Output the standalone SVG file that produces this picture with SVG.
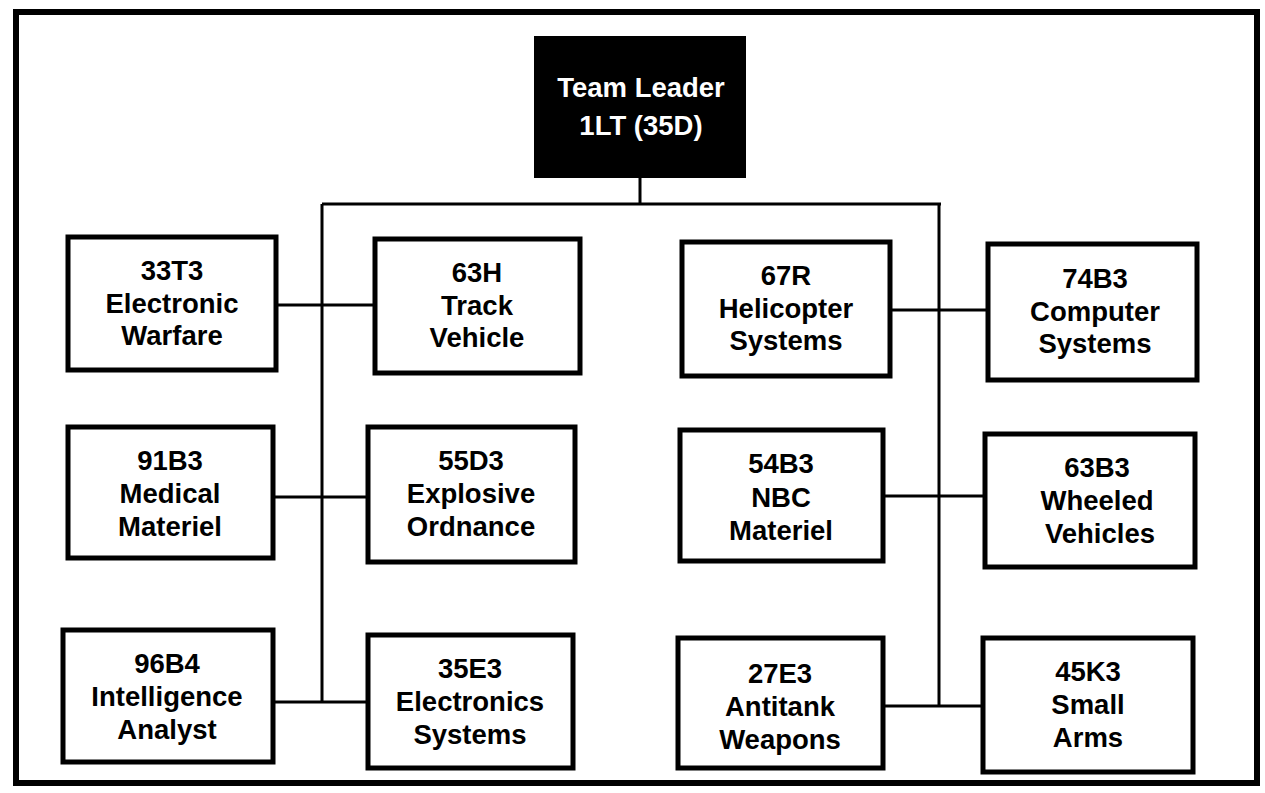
<svg xmlns="http://www.w3.org/2000/svg" width="1265" height="793" viewBox="0 0 1265 793">
<style>
.box{fill:#fff;stroke:#000;stroke-width:5}
.lead{fill:#000;stroke:#000;stroke-width:2}
.t{font-family:"Liberation Sans",Arial,sans-serif;font-weight:bold;font-size:27.5px;text-anchor:middle;fill:#000}
.w{fill:#fff}
.c{stroke:#000;stroke-width:3;fill:none}
</style>
<rect x="0" y="0" width="1265" height="793" fill="#fff"/>
<rect x="16" y="12" width="1241" height="771" fill="none" stroke="#000" stroke-width="6"/>
<g id="connectors">
<line class="c" x1="640" y1="177" x2="640" y2="204"/>
<line class="c" x1="322" y1="204" x2="941" y2="204"/>
<line class="c" x1="322" y1="204" x2="322" y2="702"/>
<line class="c" x1="939" y1="204" x2="939" y2="706"/>
<line class="c" x1="276" y1="305" x2="375" y2="305"/>
<line class="c" x1="890" y1="310" x2="988" y2="310"/>
<line class="c" x1="273" y1="497" x2="368" y2="497"/>
<line class="c" x1="883" y1="496" x2="985" y2="496"/>
<line class="c" x1="273" y1="702" x2="368" y2="702"/>
<line class="c" x1="883" y1="706" x2="983" y2="706"/>
</g>
<g id="team-leader">
<rect class="lead" x="535" y="37" width="210" height="140"/>
<text class="t w" x="641" y="97">Team Leader</text>
<text class="t w" x="641" y="135">1LT (35D)</text>
</g>
<g id="n33T3">
<rect class="box" x="68" y="237" width="208" height="133"/>
<text class="t" x="172" y="280">33T3</text>
<text class="t" x="172" y="313">Electronic</text>
<text class="t" x="172" y="345">Warfare</text>
</g>
<g id="n63H">
<rect class="box" x="375" y="239" width="205" height="134"/>
<text class="t" x="477" y="282">63H</text>
<text class="t" x="477" y="315">Track</text>
<text class="t" x="477" y="347">Vehicle</text>
</g>
<g id="n67R">
<rect class="box" x="682" y="242" width="208" height="134"/>
<text class="t" x="786" y="285">67R</text>
<text class="t" x="786" y="318">Helicopter</text>
<text class="t" x="786" y="350">Systems</text>
</g>
<g id="n74B3">
<rect class="box" x="988" y="244" width="209" height="136"/>
<text class="t" x="1095" y="288">74B3</text>
<text class="t" x="1095" y="321">Computer</text>
<text class="t" x="1095" y="353">Systems</text>
</g>
<g id="n91B3">
<rect class="box" x="68" y="427" width="205" height="131"/>
<text class="t" x="170" y="470">91B3</text>
<text class="t" x="170" y="503">Medical</text>
<text class="t" x="170" y="536">Materiel</text>
</g>
<g id="n55D3">
<rect class="box" x="368" y="427" width="207" height="135"/>
<text class="t" x="471" y="470">55D3</text>
<text class="t" x="471" y="503">Explosive</text>
<text class="t" x="471" y="536">Ordnance</text>
</g>
<g id="n54B3">
<rect class="box" x="680" y="430" width="203" height="131"/>
<text class="t" x="781" y="473">54B3</text>
<text class="t" x="781" y="507">NBC</text>
<text class="t" x="781" y="540">Materiel</text>
</g>
<g id="n63B3">
<rect class="box" x="985" y="434" width="210" height="133"/>
<text class="t" x="1097" y="477">63B3</text>
<text class="t" x="1097" y="510">Wheeled</text>
<text class="t" x="1100" y="543">Vehicles</text>
</g>
<g id="n96B4">
<rect class="box" x="63" y="630" width="210" height="132"/>
<text class="t" x="167" y="673">96B4</text>
<text class="t" x="167" y="706">Intelligence</text>
<text class="t" x="167" y="739">Analyst</text>
</g>
<g id="n35E3">
<rect class="box" x="368" y="635" width="205" height="133"/>
<text class="t" x="470" y="678">35E3</text>
<text class="t" x="470" y="711">Electronics</text>
<text class="t" x="470" y="744">Systems</text>
</g>
<g id="n27E3">
<rect class="box" x="678" y="638" width="205" height="130"/>
<text class="t" x="780" y="683">27E3</text>
<text class="t" x="780" y="716">Antitank</text>
<text class="t" x="780" y="749">Weapons</text>
</g>
<g id="n45K3">
<rect class="box" x="983" y="638" width="210" height="134"/>
<text class="t" x="1088" y="681">45K3</text>
<text class="t" x="1088" y="714">Small</text>
<text class="t" x="1088" y="747">Arms</text>
</g>
</svg>
